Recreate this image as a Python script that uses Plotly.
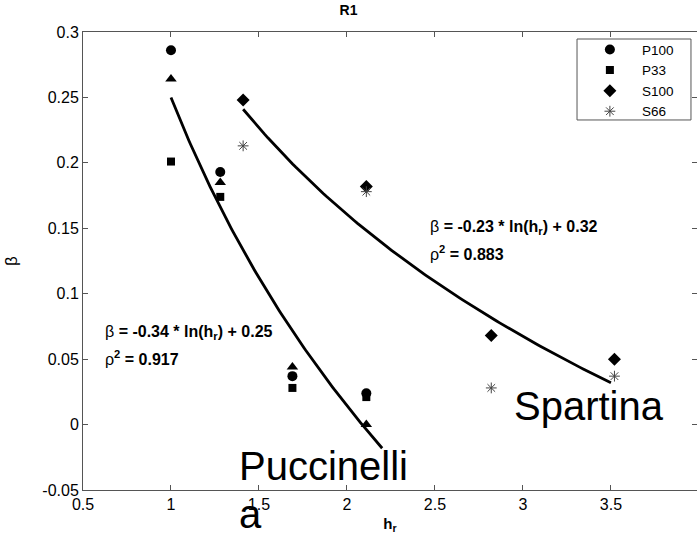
import numpy as np
import plotly.graph_objects as go

# ---- data ----
hr_P = [1.0, 1.28, 1.69, 2.11]
P100 = [0.286, 0.193, 0.037, 0.024]
P33 = [0.201, 0.174, 0.028, 0.021]
P66 = [0.264, 0.185, 0.044, 0.000]

hr_S = [1.41, 2.11, 2.82, 3.52]
S100 = [0.248, 0.182, 0.068, 0.050]
S66 = [0.213, 0.178, 0.028, 0.037]

fitP = (-0.34, 0.25, 1.0, 2.2)   # slope, intercept, x start, x end
fitS = (-0.23, 0.32, 1.41, 3.5)

FONT = "Liberation Sans, Arial, sans-serif"

fig = go.Figure()

for (a, b, x0, x1) in (fitP, fitS):
    xs = np.linspace(x0, x1, 120)
    fig.add_trace(go.Scatter(x=xs, y=a * np.log(xs) + b, mode="lines",
                             line=dict(color="black", width=2.8), showlegend=False,
                             hoverinfo="skip"))

fig.add_trace(go.Scatter(x=hr_P, y=P66, mode="markers", showlegend=False,
                         marker=dict(symbol="triangle-up", size=10, color="black")))
fig.add_trace(go.Scatter(x=hr_P, y=P100, mode="markers", name="P100",
                         marker=dict(symbol="circle", size=10, color="black")))
fig.add_trace(go.Scatter(x=hr_P, y=P33, mode="markers", name="P33",
                         marker=dict(symbol="square", size=8, color="black")))
fig.add_trace(go.Scatter(x=hr_S, y=S100, mode="markers", name="S100",
                         marker=dict(symbol="diamond", size=10, color="black")))
fig.add_trace(go.Scatter(x=hr_S, y=S66, mode="markers", name="S66",
                         marker=dict(symbol="asterisk-open", size=9, color="#444",
                                     line=dict(color="#444", width=1))))

axis_common = dict(showline=True, linecolor="#555", linewidth=1, mirror="ticks",
                   ticks="inside", ticklen=5, tickcolor="#555", showgrid=False,
                   zeroline=False, tickfont=dict(family=FONT, size=16, color="black"))

fig.update_layout(
    width=697, height=539,
    margin=dict(l=83, r=0, t=32, b=49),
    plot_bgcolor="white", paper_bgcolor="white",
    font=dict(family=FONT, color="black"),
    title=dict(text="<b>R1</b>", x=0.5, xanchor="center", y=0.99, yanchor="top",
               font=dict(family=FONT, size=14)),
    xaxis=dict(range=[0.5, 3.989], tickvals=[0.5, 1, 1.5, 2, 2.5, 3, 3.5, 4],
               ticktext=["0.5", "1", "1.5", "2", "2.5", "3", "3.5", "4"],
               title=dict(text="<b>h<sub>r</sub></b>", font=dict(family=FONT, size=15), standoff=6),
               **axis_common),
    yaxis=dict(range=[-0.05, 0.3], tickvals=[-0.05, 0, 0.05, 0.1, 0.15, 0.2, 0.25, 0.3],
               ticktext=["-0.05", "0", "0.05", "0.1", "0.15", "0.2", "0.25", "0.3"],
               title=dict(text="β", font=dict(family=FONT, size=17), standoff=20),
               **axis_common),
    legend=dict(x=0.806, y=0.995, xanchor="left", yanchor="top",
                bgcolor="rgba(0,0,0,0)", borderwidth=0, itemwidth=54,
                font=dict(family=FONT, size=13.5, color="black"), tracegroupgap=0),
    shapes=[dict(type="rect", xref="paper", yref="paper", x0=0.8046, x1=0.9902,
                 y0=0.8079, y1=0.9847, line=dict(color="#555", width=1))],
)

ann_font = dict(family=FONT, size=16, color="black")
big_font = dict(family=FONT, size=40, color="black")
annotations = [
    dict(x=2.46, y=0.1506, text="β <b>= -0.23 * ln(h<sub>r</sub>) + 0.32</b>", font=ann_font),
    dict(x=2.46, y=0.131, text="ρ<b><sup>2</sup> = 0.883</b>", font=ann_font),
    dict(x=0.614, y=0.0703, text="β <b>= -0.34 * ln(h<sub>r</sub>) + 0.25</b>", font=ann_font),
    dict(x=0.614, y=0.0505, text="ρ<b><sup>2</sup> = 0.917</b>", font=ann_font),
    dict(x=2.94, y=0.0145, text="Spartina", font=big_font),
    dict(x=1.375, y=-0.032, text="Puccinelli", font=big_font),
]
for a in annotations:
    fig.add_annotation(xref="x", yref="y", xanchor="left", yanchor="middle",
                       showarrow=False, **a)
fig.add_annotation(xref="x", yref="paper", x=1.375, y=-0.052, xanchor="left",
                   yanchor="middle", showarrow=False, text="a", font=big_font)

fig.write_html("out.html")
